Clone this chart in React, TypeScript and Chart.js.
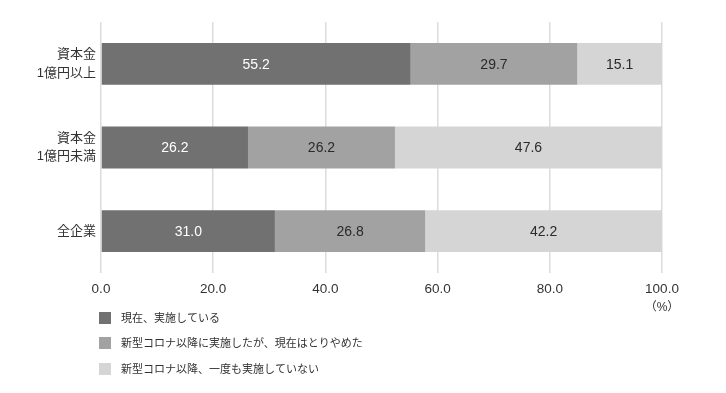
import React, { useEffect, useRef } from "react";
import { Chart, registerables } from "chart.js";

Chart.register(...registerables);

const categories: string[][] = [["資本金", "1億円以上"], ["資本金", "1億円未満"], ["全企業"]];
const seriesNames = [
  "現在、実施している",
  "新型コロナ以降に実施したが、現在はとりやめた",
  "新型コロナ以降、一度も実施していない",
];
const currentValues = [55.2, 26.2, 31.0];
const stoppedValues = [29.7, 26.2, 26.8];
const neverValues = [15.1, 47.6, 42.2];
const seriesColors = ["#717171", "#a1a2a1", "#d5d5d5"];
const labelColors = ["#ffffff", "#2a2a2a", "#2a2a2a"];
const xTicks = [0, 20, 40, 60, 80, 100];
const unitLabel = "（%）";

const FONT = "'Liberation Sans', 'Noto Sans CJK JP', sans-serif";

const overlayPlugin = {
  id: "overlay",
  afterDatasetsDraw(chart: any) {
    const ctx = chart.ctx;
    ctx.save();
    ctx.font = `14px ${FONT}`;
    ctx.textAlign = "center";
    ctx.textBaseline = "middle";
    chart.data.datasets.forEach((ds: any, di: number) => {
      const meta = chart.getDatasetMeta(di);
      meta.data.forEach((bar: any, i: number) => {
        const v = ds.data[i] as number;
        const cx = (bar.x + bar.base) / 2;
        ctx.fillStyle = labelColors[di];
        ctx.fillText(v.toFixed(1), cx, bar.y + 1);
      });
    });
    // unit label
    const xs = chart.scales.x;
    ctx.fillStyle = "#333333";
    ctx.font = `12px ${FONT}`;
    ctx.fillText(unitLabel, xs.getPixelForValue(100), 308);
    // legend
    ctx.textAlign = "left";
    ctx.font = `11px ${FONT}`;
    const ys = [318, 343, 369];
    seriesNames.forEach((name, i) => {
      ctx.fillStyle = seriesColors[i];
      ctx.fillRect(99, ys[i] - 6, 12, 12);
      ctx.fillStyle = "#333333";
      ctx.fillText(name, 121, ys[i] + 1);
    });
    ctx.restore();
  },
};

export default function App() {
  const ref = useRef<HTMLCanvasElement>(null);
  useEffect(() => {
    if (!ref.current) return;
    const datasets = [currentValues, stoppedValues, neverValues].map((d, i) => ({
      label: seriesNames[i],
      data: d,
      backgroundColor: seriesColors[i],
      borderWidth: 0,
      barPercentage: 0.5,
      categoryPercentage: 1,
    }));
    const chart = new Chart(ref.current, {
      type: "bar",
      data: { labels: categories, datasets },
      plugins: [overlayPlugin],
      options: {
        indexAxis: "y",
        animation: false,
        responsive: false,
        maintainAspectRatio: false,
        layout: { padding: { left: 0, right: 64, top: 22, bottom: 90 } },
        plugins: { legend: { display: false }, tooltip: { enabled: false } },
        scales: {
          x: {
            stacked: true,
            min: 0,
            max: 100,
            afterBuildTicks(scale: any) {
              scale.ticks = xTicks.map((v) => ({ value: v }));
            },
            afterFit(scale: any) {
              scale.height = 30;
            },
            border: { display: false },
            grid: { color: "#dcdcdc", lineWidth: 1.5, drawTicks: false },
            ticks: {
              padding: 8,
              color: "#333333",
              font: { family: FONT, size: 13.5 },
              callback: (v: any) => Number(v).toFixed(1),
            },
          },
          y: {
            stacked: true,
            afterFit(scale: any) {
              scale.width = 101;
            },
            border: { display: false },
            grid: { display: false, drawTicks: false },
            ticks: {
              padding: 5,
              color: "#333333",
              font: { family: FONT, size: 13, lineHeight: 1.4 },
            },
          },
        },
      },
    });
    return () => chart.destroy();
  }, []);
  return (
    <div style={{ position: "fixed", left: 0, top: 0, width: 726, height: 393, background: "#fff" }}>
      <canvas ref={ref} width={726} height={393} style={{ width: 726, height: 393 }} />
    </div>
  );
}
